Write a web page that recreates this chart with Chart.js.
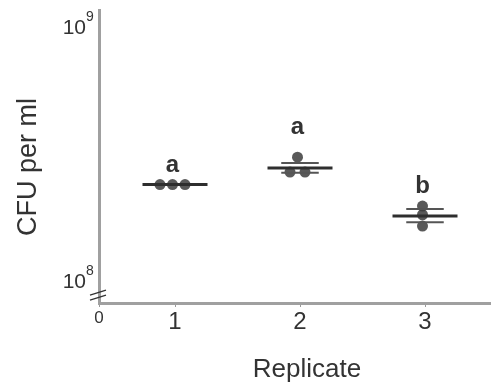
<!DOCTYPE html>
<html lang="en">
<head>
    <meta charset="UTF-8">
    <title>CFU per replicate</title>
    <style>
        body {
            margin: 0;
            background-color: #fff;
        }
        #wrap {
            width: 491px;
            height: 383px;
        }
    </style>
    <script src="https://cdn.jsdelivr.net/npm/chart.js"></script>
</head>
<body>
    <div id="wrap"><canvas id="chart" width="491" height="383"></canvas></div>

    <script>
        // values
        const replicates = [1, 2, 3];
        const jitter = [[-0.12, -0.02, 0.08], [-0.02, -0.08, 0.04], [-0.02, -0.02, -0.02]];
        const cfu = [[2.42e8, 2.42e8, 2.42e8], [3.10e8, 2.71e8, 2.71e8], [1.99e8, 1.84e8, 1.66e8]];
        const means = [2.42e8, 2.81e8, 1.82e8];
        const sdLow = [2.42e8, 2.69e8, 1.72e8];
        const sdHigh = [2.42e8, 2.94e8, 1.94e8];
        const letters = ['a', 'a', 'b'];
        const letterAt = [2.71e8, 3.82e8, 2.24e8];
        const yTicks = [1e8, 1e9];

        const FONT = 'Arial, "Liberation Sans", sans-serif';
        const X_MIN = 0.392, X_MAX = 3.528;

        const dots = [];
        replicates.forEach((r, i) => {
            cfu[i].forEach((v, j) => dots.push({x: r + jitter[i][j], y: v}));
        });

        function segs(vals, half) {
            const out = [];
            replicates.forEach((r, i) => {
                out.push({x: r - half, y: vals[i]});
                out.push({x: r + half, y: vals[i]});
                out.push({x: r, y: null});
            });
            return out;
        }

        // labels, titles and the axis break
        const extras = {
            id: 'extras',
            afterDraw(chart) {
                const ctx = chart.ctx;
                const xs = chart.scales.x, ys = chart.scales.y;
                ctx.save();
                ctx.fillStyle = '#333';

                // y tick labels 10^8 / 10^9
                yTicks.forEach(v => {
                    const py = ys.getPixelForValue(v);
                    const exp = String(Math.round(Math.log10(v)));
                    ctx.font = '21px ' + FONT;
                    ctx.textAlign = 'right';
                    ctx.textBaseline = 'middle';
                    ctx.fillText('10', 86, py);
                    ctx.font = '14px ' + FONT;
                    ctx.textAlign = 'left';
                    ctx.fillText(exp, 86, py - 11);
                });

                // significance letters
                ctx.font = 'bold 24px ' + FONT;
                ctx.textAlign = 'center';
                ctx.textBaseline = 'alphabetic';
                replicates.forEach((r, i) => {
                    ctx.fillText(letters[i], xs.getPixelForValue(r - 0.02), ys.getPixelForValue(letterAt[i]));
                });

                // axis titles
                ctx.font = '26px ' + FONT;
                ctx.textBaseline = 'alphabetic';
                ctx.fillText('Replicate', 307, 377);
                ctx.save();
                ctx.translate(36, 167);
                ctx.rotate(-Math.PI / 2);
                ctx.font = '27px ' + FONT;
                ctx.textBaseline = 'alphabetic';
                ctx.fillText('CFU per ml', 0, 0);
                ctx.restore();

                // break mark on the y axis
                const ax = chart.chartArea.left;
                const by = ys.getPixelForValue(1e8) + 10;
                ctx.strokeStyle = '#333';
                ctx.lineWidth = 1.3;
                [0, 5].forEach(d => {
                    ctx.beginPath();
                    ctx.moveTo(ax - 9, by + d + 3);
                    ctx.lineTo(ax + 7, by + d - 2);
                    ctx.stroke();
                });
                ctx.restore();
            }
        };

        const ctx = document.getElementById('chart').getContext('2d');
        const chart = new Chart(ctx, {
            type: 'scatter',
            data: {
                datasets: [
                    {
                        label: 'mean',
                        type: 'line',
                        data: segs(means, 0.26),
                        borderColor: '#2e2e2e',
                        borderWidth: 3,
                        pointRadius: 0,
                        spanGaps: false,
                        order: 1
                    },
                    {
                        label: 'sd low',
                        type: 'line',
                        data: segs(sdLow, 0.15),
                        borderColor: '#555',
                        borderWidth: 2,
                        pointRadius: 0,
                        spanGaps: false,
                        order: 1
                    },
                    {
                        label: 'sd high',
                        type: 'line',
                        data: segs(sdHigh, 0.15),
                        borderColor: '#555',
                        borderWidth: 2,
                        pointRadius: 0,
                        spanGaps: false,
                        order: 1
                    },
                    {
                        label: 'CFU',
                        data: dots,
                        backgroundColor: 'rgba(60,60,60,0.85)',
                        borderWidth: 0,
                        pointRadius: 5.5,
                        order: 2
                    }
                ]
            },
            options: {
                responsive: false,
                animation: false,
                layout: {autoPadding: false, padding: {top: 10, right: 0, left: 0, bottom: 0}},
                plugins: {
                    legend: {display: false},
                    tooltip: {enabled: false}
                },
                scales: {
                    x: {
                        type: 'linear',
                        min: X_MIN,
                        max: X_MAX,
                        afterBuildTicks: s => {
                            s.ticks = [{value: X_MIN}].concat(replicates.map(v => ({value: v})));
                        },
                        afterFit: s => {
                            s.height = 80;
                            s.paddingLeft = 0;
                            s.paddingRight = 0;
                        },
                        grid: {
                            display: true,
                            drawOnChartArea: false,
                            drawTicks: true,
                            tickLength: 4,
                            color: '#999'
                        },
                        border: {display: true, color: '#a0a0a0', width: 3},
                        ticks: {
                            autoSkip: false,
                            maxRotation: 0,
                            padding: 1,
                            color: '#333',
                            font: c => ({family: FONT, size: (c.tick && c.tick.value < 0.5) ? 17 : 24}),
                            callback: v => (v < 0.5 ? '0' : String(v))
                        }
                    },
                    y: {
                        type: 'logarithmic',
                        min: 0.827e8,
                        max: 1.177e9,
                        afterFit: s => {
                            s.width = 99;
                            s.paddingTop = 0;
                            s.paddingBottom = 0;
                        },
                        grid: {display: false},
                        border: {display: true, color: '#a0a0a0', width: 3},
                        ticks: {display: false}
                    }
                }
            },
            plugins: [extras]
        });
    </script>
</body>
</html>
